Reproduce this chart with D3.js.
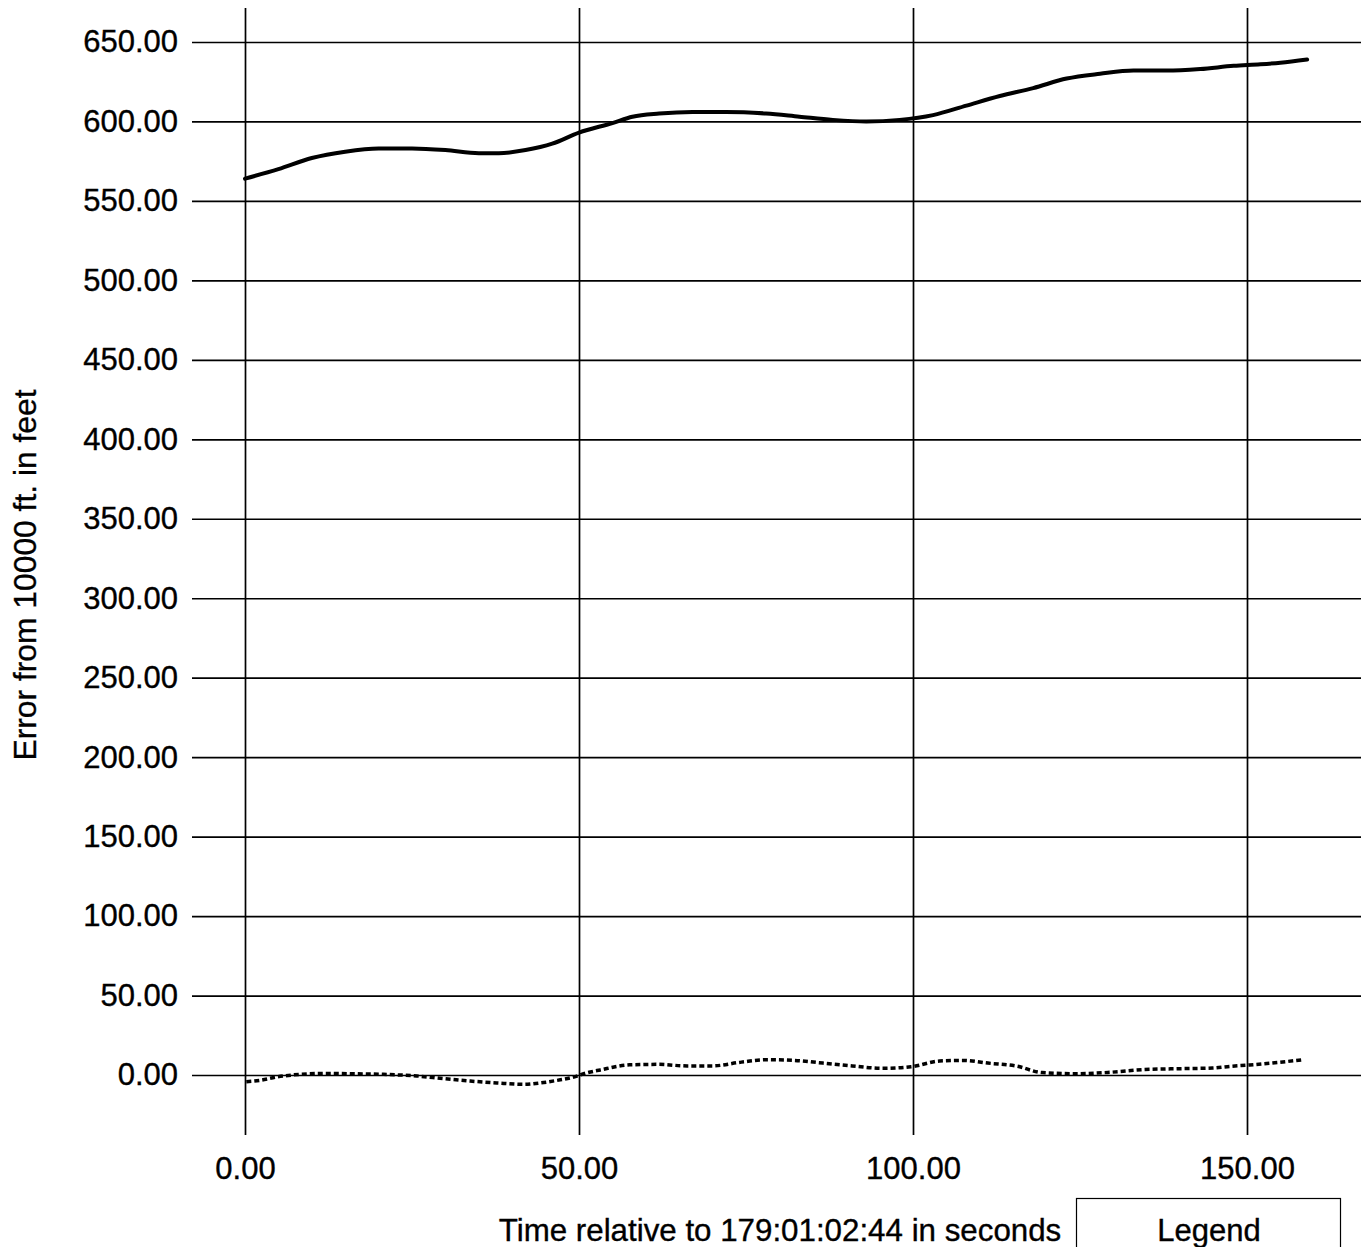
<!DOCTYPE html>
<html>
<head>
<meta charset="utf-8">
<script src="https://cdn.jsdelivr.net/npm/d3@7"></script>
<style>
html,body{margin:0;padding:0;background:#fff;}
svg{display:block;}
text{font-family:"Liberation Sans",Arial,Helvetica,sans-serif;fill:#000;stroke:#000;stroke-width:0.35px;}
</style>
</head>
<body>
<svg id="chart" width="1361" height="1247"></svg>
<script>
// ---- data ----
const xTicks = [0, 50, 100, 150];
const yTicks = [0, 50, 100, 150, 200, 250, 300, 350, 400, 450, 500, 550, 600, 650];

const solidX = [0, 5, 10, 15, 20, 25, 30, 35, 38, 42, 46, 50, 55, 58, 62, 67, 72, 78, 83, 88, 93, 98, 103, 108, 113, 118, 123, 128, 133, 138, 143, 148, 152, 155, 159];
const solidY = [564, 570, 577, 581, 583, 583, 582, 580, 580, 582, 586, 593, 599, 603, 605, 606, 606, 605, 603, 601, 600, 601, 604, 610, 616, 621, 627, 630, 632, 632, 633, 635, 636, 637, 639];

const dotX = [0.2, 2.2, 4.7, 8.2, 12.2, 15.7, 20.7, 25.7, 29.7, 33.7, 37.7, 41.7, 44.2, 46.7, 49.2, 50.7, 53.2, 57.6, 61.8, 66.2, 69.9, 74.3, 78.1, 82.2, 86.5, 90.9, 95.4, 99.7, 104.0, 107.6, 111.2, 115.6, 119.3, 124.4, 129.5, 134.6, 140.4, 144.8, 147.6, 150.4, 154.9, 158.5];
const dotY = [-4.2, -3.4, -1.3, 0.4, 1.0, 0.8, 0.4, -0.6, -2.3, -3.8, -5.0, -5.9, -5.0, -3.4, -1.3, 0.8, 3.2, 6.4, 6.7, 5.7, 5.7, 8.1, 9.6, 9.2, 7.5, 5.7, 4.2, 5.2, 8.8, 9.2, 7.5, 5.5, 1.5, 0.8, 1.7, 3.4, 4.0, 4.4, 5.5, 6.3, 8.0, 9.7];

const xTitle = "Time relative to 179:01:02:44 in seconds";
const yTitle = "Error from 10000 ft. in feet";
const legendTitle = "Legend";

// ---- chart ----
const svg = d3.select("#chart");
const x = d3.scaleLinear().domain([0, 150]).range([245, 1247]);
const y = d3.scaleLinear().domain([0, 650]).range([1075, 42]);

const fmt = d3.format(".2f");

// horizontal grid + y labels
const yAxis = d3.axisLeft(y).tickValues(yTicks).tickFormat(fmt).tickSize(-(1361 - 192)).tickPadding(14);
const gy = svg.append("g").attr("transform", "translate(192,0)").call(yAxis);
gy.select(".domain").remove();
gy.selectAll(".tick line").attr("stroke", "#000").attr("stroke-width", 1.7).attr("x1", 0);
gy.selectAll(".tick text").attr("font-size", 31).attr("font-family", "Liberation Sans, Arial, sans-serif").attr("x", -14);

// vertical grid + x labels
const xAxis = d3.axisBottom(x).tickValues(xTicks).tickFormat(fmt).tickSize(0).tickPadding(0);
const gx = svg.append("g").attr("transform", "translate(0,1135)").call(xAxis);
gx.select(".domain").remove();
gx.selectAll(".tick line").attr("stroke", "#000").attr("stroke-width", 1.7).attr("y1", 0).attr("y2", 8 - 1135);
gx.selectAll(".tick text").attr("font-size", 31).attr("font-family", "Liberation Sans, Arial, sans-serif").attr("dy", null).attr("y", 44);

// series
const line = d3.line().x(d => x(d[0])).y(d => y(d[1])).curve(d3.curveMonotoneX);
const solidData = solidX.map((v, i) => [v, solidY[i]]);
const dotData = dotX.map((v, i) => [v, dotY[i]]);

svg.append("path").datum(solidData).attr("d", line)
  .attr("fill", "none").attr("stroke", "#000").attr("stroke-width", 4).attr("stroke-linejoin", "round").attr("stroke-linecap", "round");
svg.append("path").datum(dotData).attr("d", line)
  .attr("fill", "none").attr("stroke", "#000").attr("stroke-width", 3.5).attr("stroke-dasharray", "5,3");

// axis titles
svg.append("text").attr("x", 780).attr("y", 1241).attr("text-anchor", "middle").attr("font-size", 31.3).text(xTitle);
svg.append("text").attr("transform", "translate(36,575) rotate(-90)").attr("text-anchor", "middle").attr("font-size", 31.8).text(yTitle);

// legend box
svg.append("rect").attr("x", 1076.5).attr("y", 1198.5).attr("width", 264).attr("height", 80)
  .attr("fill", "#fff").attr("stroke", "#000").attr("stroke-width", 1.2);
svg.append("text").attr("x", 1209).attr("y", 1241).attr("text-anchor", "middle").attr("font-size", 31).text(legendTitle);
</script>
</body>
</html>
